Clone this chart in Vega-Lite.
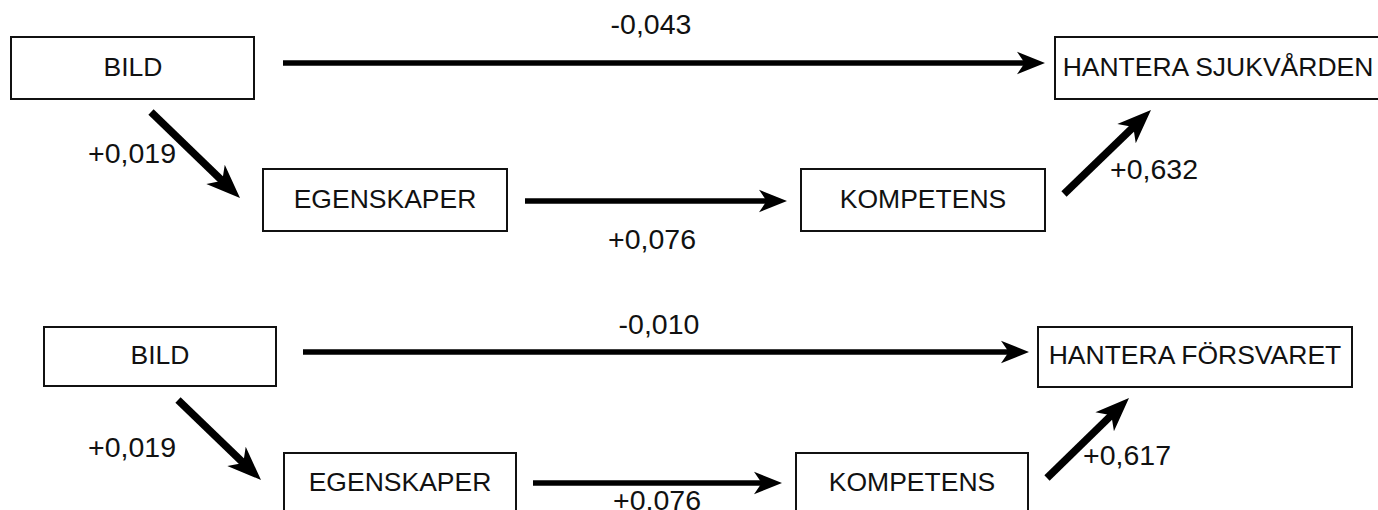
{
  "$schema": "https://vega.github.io/schema/vega-lite/v6.json",
  "width": 1378,
  "height": 510,
  "padding": 0,
  "autosize": {"type": "none"},
  "background": "white",
  "config": {"view": {"stroke": null}},
  "datasets": {
    "boxes": [
      {"panel": "top", "node": "BILD", "x": 11, "x2": 254, "y": 37, "y2": 99},
      {"panel": "top", "node": "HANTERA SJUKVÅRDEN", "x": 1055, "x2": 1400, "y": 37, "y2": 99},
      {"panel": "top", "node": "EGENSKAPER", "x": 263, "x2": 507, "y": 169, "y2": 231},
      {"panel": "top", "node": "KOMPETENS", "x": 801, "x2": 1045, "y": 169, "y2": 231},
      {"panel": "bottom", "node": "BILD", "x": 44, "x2": 276, "y": 327, "y2": 386},
      {"panel": "bottom", "node": "HANTERA FÖRSVARET", "x": 1038, "x2": 1352, "y": 327, "y2": 387},
      {"panel": "bottom", "node": "EGENSKAPER", "x": 284, "x2": 516, "y": 453, "y2": 516},
      {"panel": "bottom", "node": "KOMPETENS", "x": 796, "x2": 1028, "y": 453, "y2": 516}
    ],
    "nodeLabels": [
      {"label": "BILD", "x": 133, "y": 68},
      {"label": "HANTERA SJUKVÅRDEN", "x": 1218, "y": 68},
      {"label": "EGENSKAPER", "x": 385, "y": 200},
      {"label": "KOMPETENS", "x": 923, "y": 200},
      {"label": "BILD", "x": 160, "y": 356},
      {"label": "HANTERA FÖRSVARET", "x": 1195, "y": 356},
      {"label": "EGENSKAPER", "x": 400, "y": 483},
      {"label": "KOMPETENS", "x": 912, "y": 483}
    ],
    "arrows": [
      {"kind": "straight", "from": "BILD", "to": "HANTERA SJUKVÅRDEN", "x": 283, "y": 63, "x2": 1045, "y2": 63},
      {"kind": "straight", "from": "EGENSKAPER", "to": "KOMPETENS", "x": 525, "y": 201, "x2": 787, "y2": 201},
      {"kind": "diagonal", "from": "BILD", "to": "EGENSKAPER", "x": 151, "y": 112, "x2": 240, "y2": 198},
      {"kind": "diagonal", "from": "KOMPETENS", "to": "HANTERA SJUKVÅRDEN", "x": 1064, "y": 194, "x2": 1151, "y2": 110},
      {"kind": "straight", "from": "BILD", "to": "HANTERA FÖRSVARET", "x": 303, "y": 352, "x2": 1029, "y2": 352},
      {"kind": "straight", "from": "EGENSKAPER", "to": "KOMPETENS", "x": 533, "y": 483, "x2": 782, "y2": 483},
      {"kind": "diagonal", "from": "BILD", "to": "EGENSKAPER", "x": 178, "y": 400, "x2": 261, "y2": 480},
      {"kind": "diagonal", "from": "KOMPETENS", "to": "HANTERA FÖRSVARET", "x": 1047, "y": 478, "x2": 1129, "y2": 398}
    ],
    "edgeLabels": [
      {"label": "-0,043", "x": 651, "y": 25},
      {"label": "+0,076", "x": 652, "y": 240},
      {"label": "+0,019", "x": 132, "y": 154},
      {"label": "+0,632", "x": 1154, "y": 170},
      {"label": "-0,010", "x": 659, "y": 325},
      {"label": "+0,019", "x": 132, "y": 448},
      {"label": "+0,617", "x": 1127, "y": 456},
      {"label": "+0,076", "x": 657, "y": 501}
    ]
  },
  "layer": [
    {
      "data": {"name": "boxes"},
      "mark": {"type": "rect", "fill": "white", "stroke": "#111111", "strokeWidth": 2},
      "encoding": {
        "x": {"field": "x", "type": "quantitative", "scale": {"domain": [0, 1378], "nice": false, "zero": false}, "axis": null},
        "x2": {"field": "x2"},
        "y": {"field": "y", "type": "quantitative", "scale": {"domain": [0, 510], "nice": false, "zero": false, "reverse": true}, "axis": null},
        "y2": {"field": "y2"}
      }
    },
    {
      "data": {"name": "arrows"},
      "transform": [
        {"filter": "datum.kind === 'straight'"},
        {"calculate": "sqrt(pow(datum.x2 - datum.x, 2) + pow(datum.y2 - datum.y, 2))", "as": "len"},
        {"calculate": "datum.x2 - 15 * (datum.x2 - datum.x) / datum.len", "as": "ex"},
        {"calculate": "datum.y2 - 15 * (datum.y2 - datum.y) / datum.len", "as": "ey"}
      ],
      "mark": {"type": "rule", "strokeWidth": 5.5, "color": "black", "strokeCap": "butt"},
      "encoding": {
        "x": {"field": "x", "type": "quantitative"},
        "y": {"field": "y", "type": "quantitative"},
        "x2": {"field": "ex"},
        "y2": {"field": "ey"}
      }
    },
    {
      "data": {"name": "arrows"},
      "transform": [
        {"filter": "datum.kind === 'diagonal'"},
        {"calculate": "sqrt(pow(datum.x2 - datum.x, 2) + pow(datum.y2 - datum.y, 2))", "as": "len"},
        {"calculate": "datum.x2 - 18 * (datum.x2 - datum.x) / datum.len", "as": "ex"},
        {"calculate": "datum.y2 - 18 * (datum.y2 - datum.y) / datum.len", "as": "ey"}
      ],
      "mark": {"type": "rule", "strokeWidth": 7.5, "color": "black", "strokeCap": "butt"},
      "encoding": {
        "x": {"field": "x", "type": "quantitative"},
        "y": {"field": "y", "type": "quantitative"},
        "x2": {"field": "ex"},
        "y2": {"field": "ey"}
      }
    },
    {
      "data": {"name": "arrows"},
      "transform": [
        {"filter": "datum.kind === 'straight'"},
        {"calculate": "atan2(datum.y2 - datum.y, datum.x2 - datum.x) * 180 / PI + 90", "as": "ang"}
      ],
      "mark": {"type": "point", "shape": "M0,0 L0.8,2 L0,1.45 L-0.8,2 Z", "filled": true, "size": 784, "color": "black", "opacity": 1, "strokeWidth": 0},
      "encoding": {
        "x": {"field": "x2", "type": "quantitative"},
        "y": {"field": "y2", "type": "quantitative"},
        "angle": {"field": "ang", "type": "quantitative", "scale": null}
      }
    },
    {
      "data": {"name": "arrows"},
      "transform": [
        {"filter": "datum.kind === 'diagonal'"},
        {"calculate": "atan2(datum.y2 - datum.y, datum.x2 - datum.x) * 180 / PI + 90", "as": "ang"}
      ],
      "mark": {"type": "point", "shape": "M0,0 L0.78,2 L0,1.45 L-0.78,2 Z", "filled": true, "size": 1156, "color": "black", "opacity": 1, "strokeWidth": 0},
      "encoding": {
        "x": {"field": "x2", "type": "quantitative"},
        "y": {"field": "y2", "type": "quantitative"},
        "angle": {"field": "ang", "type": "quantitative", "scale": null}
      }
    },
    {
      "data": {"name": "nodeLabels"},
      "mark": {"type": "text", "font": "Liberation Sans", "fontSize": 26.5, "align": "center", "baseline": "middle", "color": "#111111"},
      "encoding": {
        "x": {"field": "x", "type": "quantitative"},
        "y": {"field": "y", "type": "quantitative"},
        "text": {"field": "label"}
      }
    },
    {
      "data": {"name": "edgeLabels"},
      "mark": {"type": "text", "font": "Liberation Sans", "fontSize": 28.5, "align": "center", "baseline": "middle", "color": "#111111"},
      "encoding": {
        "x": {"field": "x", "type": "quantitative"},
        "y": {"field": "y", "type": "quantitative"},
        "text": {"field": "label"}
      }
    }
  ]
}
